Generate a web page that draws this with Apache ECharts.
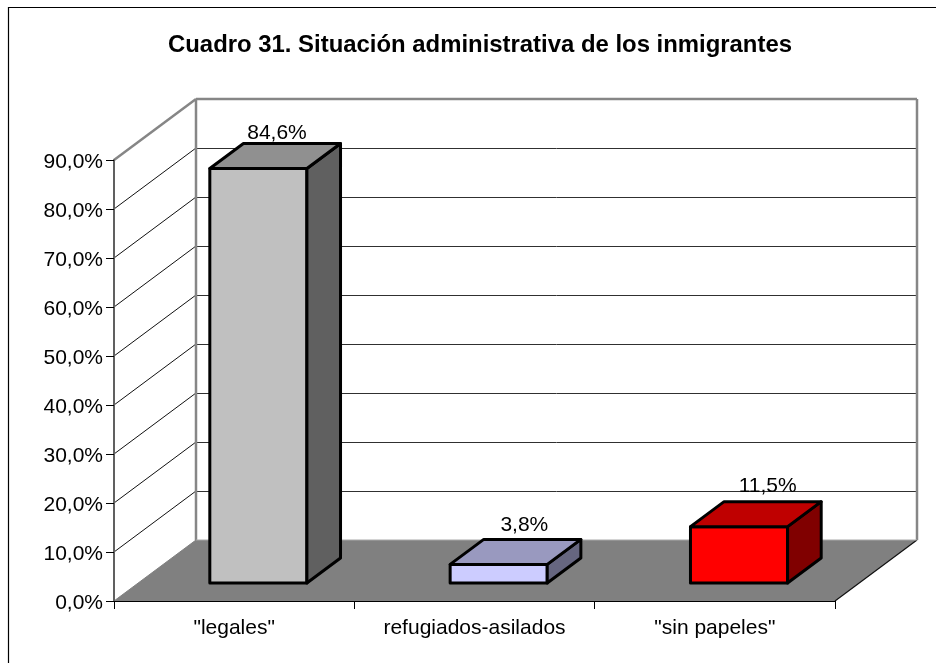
<!DOCTYPE html>
<html>
<head>
<meta charset="utf-8">
<style>html,body{margin:0;padding:0;background:#fff}#chart{width:936px;height:663px}</style>
<script src="https://cdn.jsdelivr.net/npm/echarts@6/dist/echarts.min.js"></script>
</head>
<body>
<div id="chart"></div>
<script>
const titleText = 'Cuadro 31. Situación administrativa de los inmigrantes';
const categories = ['"legales"', 'refugiados-asilados', '"sin papeles"'];
const values = [84.6, 3.8, 11.5];
const frontColors = ['#c0c0c0', '#ccccff', '#ff0000'];
const topColors = ['#909090', '#9999bf', '#bf0000'];
const sideColors = ['#606060', '#666680', '#800000'];
const axisMax = 90;
const axisStep = 10;

// Oblique projection: how far the back plane sits from the front plane, in pixels.
const DEPTH_X = 82;
const DEPTH_Y = 61;
// Box extent as fractions of the band width and of the floor depth.
const BAR_WIDTH = 0.404;
const BAR_NEAR = 0.295;
const BAR_FAR = 0.705;
// Where each value label sits relative to the centre of the box's rear top edge.
const labelShiftX = [-15, -8, -5];
const labelLift = [10, 14, 15];

const FONT = '"Liberation Sans", Arial, sans-serif';
const formatPercent = v => v.toFixed(1).replace('.', ',') + '%';
const project = (p, depth) => [p[0] + DEPTH_X * depth, p[1] - DEPTH_Y * depth];

function renderChamber(params, api) {
  const g = params.coordSys;
  const corner = (x, v, d) => project([x, api.coord([0, v])[1]], d);
  const L = g.x, R = g.x + g.width;
  const children = [];
  const line = (a, b, stroke, lineWidth) => children.push({
    type: 'line',
    shape: { x1: a[0], y1: a[1], x2: b[0], y2: b[1] },
    style: { stroke, lineWidth }
  });
  // Floor
  children.push({
    type: 'polygon',
    shape: { points: [corner(L, 0, 0), corner(R, 0, 0), corner(R, 0, 1), corner(L, 0, 1)] },
    style: { fill: '#808080' }
  });
  line(corner(R, 0, 0), corner(R, 0, 1), '#111', 1.2);
  // Gridlines on the back and left walls; the back ones snap to the pixel row
  for (let v = axisStep; v < axisMax; v += axisStep) {
    const a = corner(L, v, 1), b = corner(R, v, 1);
    const row = Math.floor(a[1]) + 0.5;
    line([a[0], row], [b[0], row], '#303030', 1);
    line(corner(L, v, 0), corner(L, v, 1), '#111', 1);
  }
  line(corner(L, 0, 0), corner(L, 0, 1), '#808080', 1);
  // Wall outlines
  line(corner(L, axisMax, 0), corner(L, axisMax, 1), '#868686', 2.5);
  line(corner(L, axisMax, 1), corner(R, axisMax, 1), '#868686', 2.5);
  line(corner(L, 0, 1), corner(L, axisMax, 1), '#868686', 2.5);
  line(corner(R, 0, 1), corner(R, axisMax, 1), '#868686', 2.5);
  line(corner(L, 0, 1), corner(R, 0, 1), '#a8a8a8', 1);
  return { type: 'group', children };
}

function renderBox(params, api) {
  const i = api.value(0);
  const v = api.value(1);
  const half = api.size([1, 0])[0] * BAR_WIDTH / 2;
  const base = api.coord([i, 0]);
  const peak = api.coord([i, v]);
  const at = (dx, y, d) => project([base[0] + dx, y], d);
  const edge = { stroke: '#000', lineWidth: 3, lineJoin: 'round' };
  const face = (pts, fill) => ({
    type: 'polygon', shape: { points: pts }, style: Object.assign({ fill }, edge)
  });
  const rear = at(0, peak[1], BAR_FAR);
  return {
    type: 'group',
    children: [
      face([at(-half, base[1], BAR_NEAR), at(half, base[1], BAR_NEAR), at(half, peak[1], BAR_NEAR), at(-half, peak[1], BAR_NEAR)], frontColors[i]),
      face([at(half, base[1], BAR_NEAR), at(half, base[1], BAR_FAR), at(half, peak[1], BAR_FAR), at(half, peak[1], BAR_NEAR)], sideColors[i]),
      face([at(-half, peak[1], BAR_NEAR), at(half, peak[1], BAR_NEAR), at(half, peak[1], BAR_FAR), at(-half, peak[1], BAR_FAR)], topColors[i]),
      {
        type: 'text',
        style: {
          text: formatPercent(v),
          x: rear[0] + labelShiftX[i],
          y: rear[1] - labelLift[i],
          align: 'center',
          verticalAlign: 'middle',
          fill: '#000',
          font: '21px ' + FONT
        }
      }
    ]
  };
}

const chart = echarts.init(document.getElementById('chart'), null, { renderer: 'canvas' });
chart.setOption({
  animation: false,
  backgroundColor: '#fff',
  textStyle: { fontFamily: FONT },
  title: {
    text: titleText,
    left: 475,
    top: 28,
    textAlign: 'center',
    textStyle: { fontFamily: FONT, fontWeight: 'bold', fontSize: 23.9, color: '#000', lineHeight: 24 }
  },
  graphic: [{
    type: 'polyline',
    z: 0,
    silent: true,
    shape: { points: [[8.5, 663], [8.5, 7.5], [936, 7.5]] },
    style: { stroke: '#000', lineWidth: 1.2, fill: null }
  }],
  grid: { left: 114, right: 101, top: 160, bottom: 62, containLabel: false },
  xAxis: {
    type: 'category',
    data: categories,
    z: 2,
    axisLine: { onZero: false, lineStyle: { color: '#000', width: 1.2 } },
    axisTick: { show: true, alignWithLabel: false, length: 8, lineStyle: { color: '#000', width: 1 } },
    axisLabel: { color: '#000', fontSize: 21, fontFamily: FONT, margin: 17, interval: 0 },
    splitLine: { show: false }
  },
  yAxis: {
    type: 'value',
    min: 0,
    max: axisMax,
    interval: axisStep,
    z: 2,
    axisLine: { show: true, lineStyle: { color: '#606060', width: 2 } },
    axisTick: { show: true, length: 8, lineStyle: { color: '#000', width: 1 } },
    axisLabel: {
      color: '#000',
      fontFamily: FONT,
      margin: 11,
      formatter: v => '{t|' + formatPercent(v) + '}',
      rich: { t: { fontSize: 21, fontFamily: FONT, color: '#000', padding: [4, 0, 0, 0] } }
    },
    splitLine: { show: false }
  },
  series: [
    {
      type: 'custom',
      name: 'chamber',
      z: 1,
      silent: true,
      clip: false,
      data: [[0, 0]],
      encode: { x: 0, y: 1 },
      renderItem: renderChamber
    },
    {
      type: 'custom',
      name: 'inmigrantes',
      z: 3,
      silent: true,
      clip: false,
      data: values.map((v, i) => [i, v]),
      encode: { x: 0, y: 1 },
      renderItem: renderBox
    }
  ]
});
</script>
</body>
</html>
